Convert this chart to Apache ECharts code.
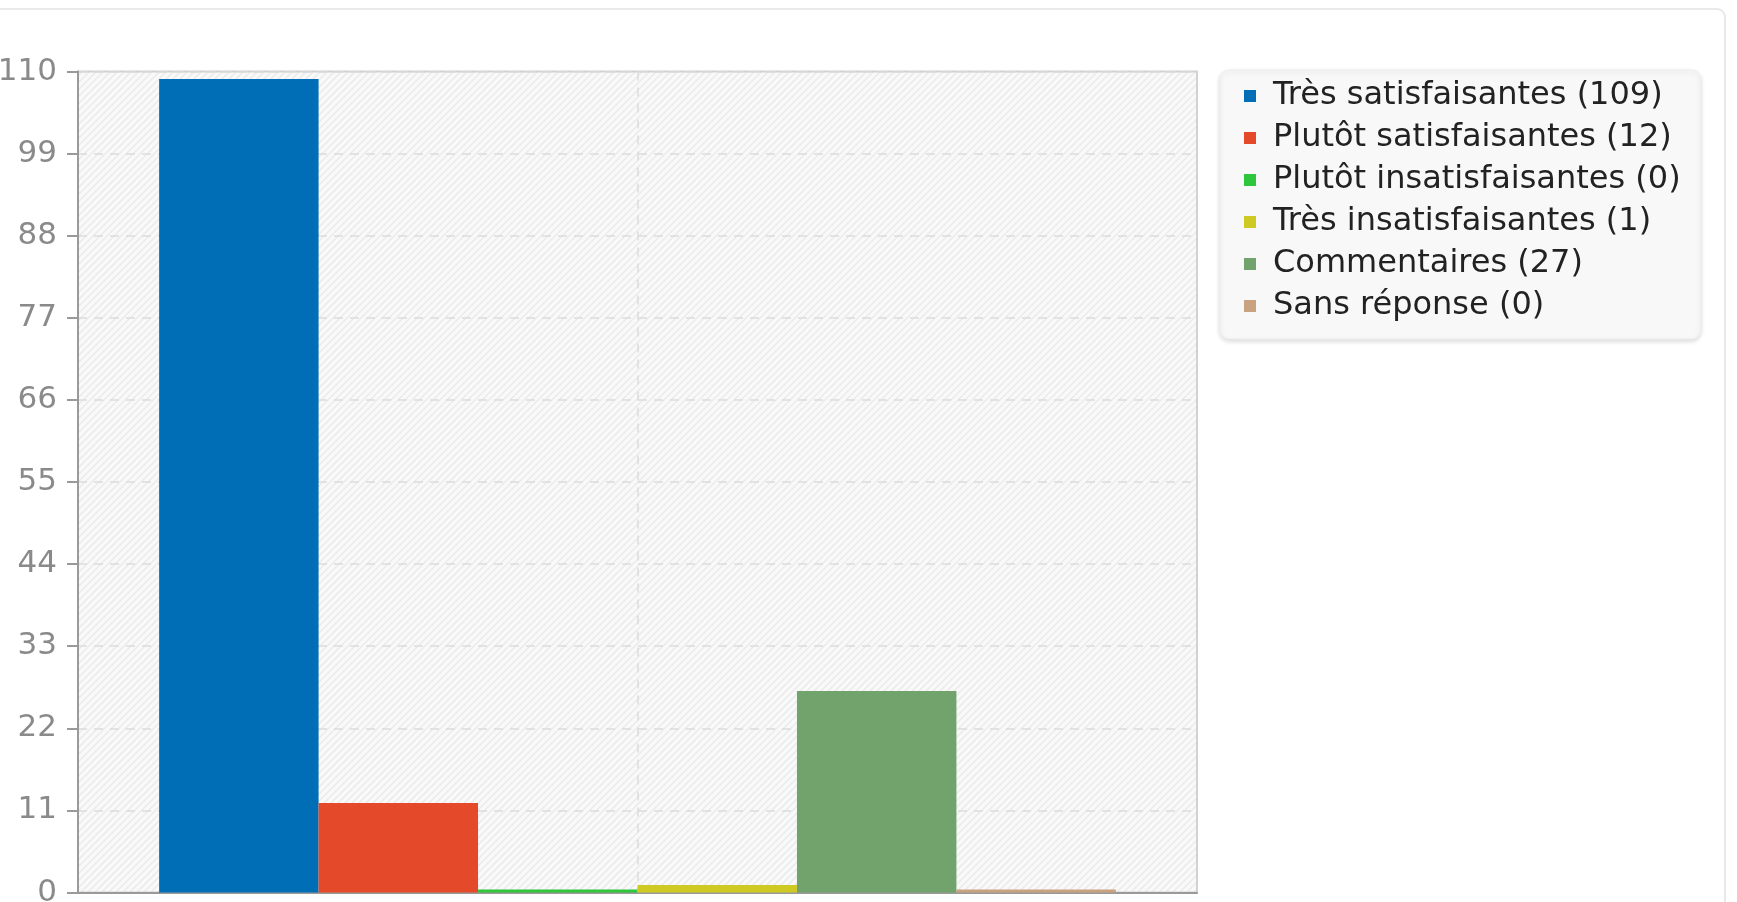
<!DOCTYPE html>
<html>
<head>
<meta charset="utf-8">
<script src="https://cdn.jsdelivr.net/npm/echarts@6/dist/echarts.min.js"></script>
<style>
  html, body { margin: 0; padding: 0; background: #ffffff; overflow: hidden; }
  #card { position: absolute; left: -20px; top: 8px; width: 1746px; height: 1000px;
          border: 2px solid #e9e9e9; border-radius: 9px; box-sizing: border-box; background: #fff; }
  #chart { position: absolute; left: 0; top: 0; width: 1737px; height: 902px; }
</style>
</head>
<body>
<div id="card"></div>
<div id="chart"></div>
<script>
// ---- data ----
const categories = ['Réponses'];
const seriesNames = [
  'Très satisfaisantes',
  'Plutôt satisfaisantes',
  'Plutôt insatisfaisantes',
  'Très insatisfaisantes',
  'Commentaires',
  'Sans réponse'
];
const seriesValues = [109, 12, 0, 1, 27, 0];
const seriesColors = ['#006db7', '#e4492a', '#2ec63c', '#cfc924', '#72a36d', '#c9a27f'];
const yTicks = { min: 0, max: 110, interval: 11 };

// ---- hatch pattern for the plot background ----
function makeHatch() {
  const s = 7;
  const c = document.createElement('canvas');
  c.width = s; c.height = s;
  const g = c.getContext('2d');
  g.fillStyle = '#f9f9f9';
  g.fillRect(0, 0, s, s);
  g.strokeStyle = '#e9e9e9';
  g.lineWidth = 1.3;
  g.beginPath();
  g.moveTo(0, s); g.lineTo(s, 0);
  g.moveTo(-1, 1); g.lineTo(1, -1);
  g.moveTo(s - 1, s + 1); g.lineTo(s + 1, s - 1);
  g.stroke();
  return c;
}

const chart = echarts.init(document.getElementById('chart'), null, { renderer: 'canvas' });
const legendNames = seriesNames.map((n, i) => n + ' (' + seriesValues[i] + ')');

const option = {
  animation: false,
  textStyle: { fontFamily: 'DejaVu Sans' },
  grid: {
    left: 78, top: 71.5, right: 540, bottom: 9.5,
    outerBoundsMode: 'none',
    containLabel: false,
    show: true,
    backgroundColor: { image: makeHatch(), repeat: 'repeat' },
    borderColor: '#d2d2d2',
    borderWidth: 2
  },
  legend: {
    data: legendNames,
    orient: 'vertical',
    left: 1220, top: 70,
    icon: 'rect',
    itemWidth: 12, itemHeight: 12,
    itemGap: 10,
    padding: [10, 20, 17, 24],
    backgroundColor: '#f8f8f8',
    borderColor: '#eeeeee',
    borderWidth: 1,
    borderRadius: 9,
    shadowBlur: 5,
    shadowOffsetY: 2,
    shadowColor: 'rgba(0,0,0,0.15)',
    selectedMode: false,
    textStyle: { fontFamily: 'DejaVu Sans', fontSize: 32, color: '#222222', padding: [0, 0, 0, 12] }
  },
  xAxis: [
    {
      type: 'category',
      data: categories,
      axisLine: { show: true, onZero: false, lineStyle: { color: '#9a9a9a', width: 2 } },
      axisTick: { show: false },
      axisLabel: { show: false },
      splitLine: { show: false }
    },
    {
      type: 'category',
      data: ['', '', ''],
      boundaryGap: false,
      position: 'top',
      axisLine: { show: false },
      axisTick: { show: false },
      axisLabel: { show: false },
      splitLine: {
        show: true,
        interval: function (idx) { return idx === 1; },
        lineStyle: { color: '#dcdcdc', width: 1.5, type: [9, 7] }
      }
    }
  ],
  yAxis: {
    type: 'value',
    min: yTicks.min, max: yTicks.max, interval: yTicks.interval,
    axisLine: { show: true, lineStyle: { color: '#9a9a9a', width: 2 } },
    axisTick: { show: true, length: 11, lineStyle: { color: '#9a9a9a', width: 2 } },
    axisLabel: { color: '#8a8a8a', fontSize: 31, margin: 21, fontFamily: 'DejaVu Sans' },
    splitLine: { show: true, lineStyle: { color: '#dcdcdc', width: 1.5, type: [9, 7] } }
  },
  series: seriesNames.map((n, i) => ({
    name: legendNames[i],
    type: 'bar',
    data: [seriesValues[i]],
    barGap: '0%',
    barCategoryGap: '14.5%',
    barMinHeight: 3,
    itemStyle: { color: seriesColors[i] }
  }))
};
chart.setOption(option);
</script>
</body>
</html>
